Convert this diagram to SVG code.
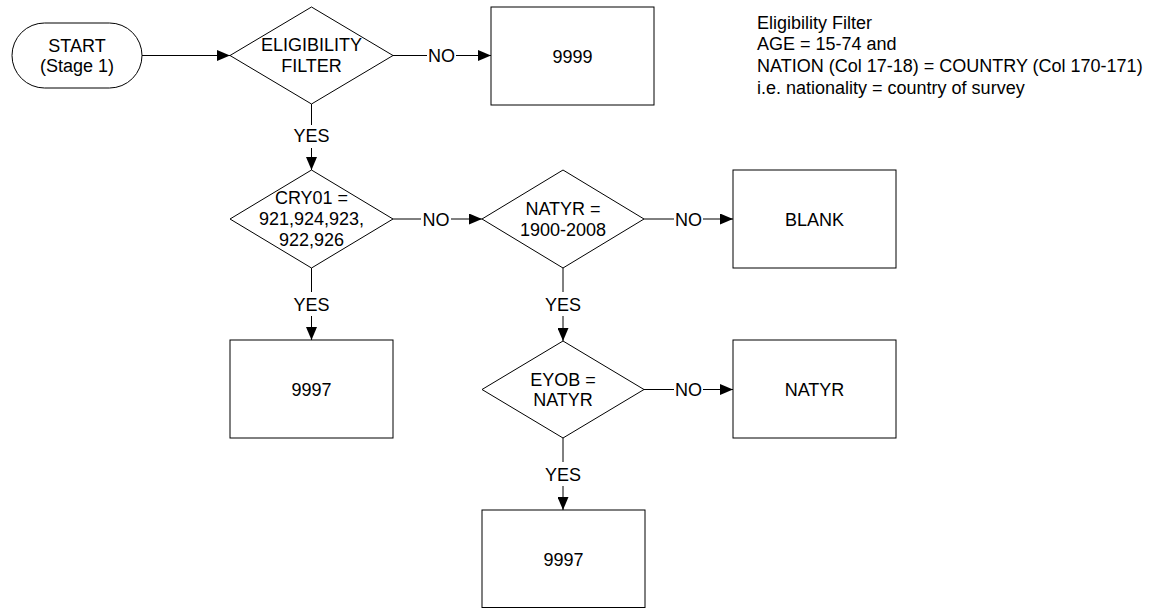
<svg xmlns="http://www.w3.org/2000/svg" width="1154" height="608" viewBox="0 0 1154 608">
<defs>
<style>
.shape{fill:#fff;stroke:#000;stroke-width:1}
.t{font-family:"Liberation Sans",Arial,sans-serif;font-size:18px;fill:#000;text-anchor:middle}
.note{font-family:"Liberation Sans",Arial,sans-serif;font-size:18px;fill:#000}
.c{stroke:#000;stroke-width:1;fill:none}
</style>
<marker id="arr" markerUnits="userSpaceOnUse" markerWidth="13" markerHeight="11" refX="13" refY="5.5" orient="auto">
<path d="M0,0 L13,5.5 L0,11 z" fill="#000"/>
</marker>
</defs>
<rect width="1154" height="608" fill="#fff"/>

<g id="connectors">
<line class="c" x1="142" y1="55.5" x2="230" y2="55.5" marker-end="url(#arr)"/>
<line class="c" x1="393" y1="55.5" x2="427" y2="55.5"/>
<text class="t" x="441.5" y="62">NO</text>
<line class="c" x1="456" y1="55.5" x2="491" y2="55.5" marker-end="url(#arr)"/>
<line class="c" x1="311.5" y1="104" x2="311.5" y2="125"/>
<text class="t" x="311.5" y="142">YES</text>
<line class="c" x1="311.5" y1="148" x2="311.5" y2="170" marker-end="url(#arr)"/>

<line class="c" x1="393" y1="219" x2="421" y2="219"/>
<text class="t" x="436" y="225.5">NO</text>
<line class="c" x1="451" y1="219" x2="482" y2="219" marker-end="url(#arr)"/>
<line class="c" x1="644" y1="219" x2="674" y2="219"/>
<text class="t" x="688.5" y="225.5">NO</text>
<line class="c" x1="703" y1="219" x2="733" y2="219" marker-end="url(#arr)"/>

<line class="c" x1="311.5" y1="268" x2="311.5" y2="292"/>
<text class="t" x="311.5" y="311">YES</text>
<line class="c" x1="311.5" y1="316" x2="311.5" y2="340" marker-end="url(#arr)"/>
<line class="c" x1="563" y1="268" x2="563" y2="292"/>
<text class="t" x="563" y="311">YES</text>
<line class="c" x1="563" y1="316" x2="563" y2="341" marker-end="url(#arr)"/>

<line class="c" x1="644" y1="389.5" x2="674" y2="389.5"/>
<text class="t" x="688.5" y="396">NO</text>
<line class="c" x1="703" y1="389.5" x2="733" y2="389.5" marker-end="url(#arr)"/>
<line class="c" x1="563" y1="438" x2="563" y2="462"/>
<text class="t" x="563" y="481">YES</text>
<line class="c" x1="563" y1="486" x2="563" y2="510" marker-end="url(#arr)"/>
</g>

<g id="start">
<rect class="shape" x="12" y="23" width="130" height="65" rx="32.5" ry="32.5"/>
<text class="t" x="77" y="51.5">START</text>
<text class="t" x="77" y="72">(Stage 1)</text>
</g>

<g id="eligibility">
<polygon class="shape" points="230,55.5 311.5,7 393,55.5 311.5,104"/>
<text class="t" x="311.5" y="51">ELIGIBILITY</text>
<text class="t" x="311.5" y="71.5">FILTER</text>
</g>

<g id="box9999">
<rect class="shape" x="491" y="7" width="163" height="98"/>
<text class="t" x="572.5" y="62.5">9999</text>
</g>

<g id="note">
<text class="note" x="757" y="28.5">Eligibility Filter</text>
<text class="note" x="757" y="50">AGE = 15-74 and</text>
<text class="note" x="757" y="72">NATION (Col 17-18) = COUNTRY (Col 170-171)</text>
<text class="note" x="757" y="93.5">i.e. nationality = country of survey</text>
</g>

<g id="cry01">
<polygon class="shape" points="230,219 311.5,170 393,219 311.5,268"/>
<text class="t" x="311.5" y="203.5">CRY01 =</text>
<text class="t" x="311.5" y="224.5">921,924,923,</text>
<text class="t" x="311.5" y="245.5">922,926</text>
</g>

<g id="natyr-range">
<polygon class="shape" points="482,219 563,170 644,219 563,268"/>
<text class="t" x="563" y="215">NATYR =</text>
<text class="t" x="563" y="235.5">1900-2008</text>
</g>

<g id="blank">
<rect class="shape" x="733" y="170" width="163" height="98"/>
<text class="t" x="814.5" y="225.5">BLANK</text>
</g>

<g id="box9997a">
<rect class="shape" x="230" y="340" width="163" height="98"/>
<text class="t" x="311.5" y="395.5">9997</text>
</g>

<g id="eyob">
<polygon class="shape" points="482,389.5 563,341 644,389.5 563,438"/>
<text class="t" x="563" y="385.5">EYOB =</text>
<text class="t" x="563" y="406">NATYR</text>
</g>

<g id="natyr-box">
<rect class="shape" x="733" y="340" width="163" height="98"/>
<text class="t" x="814.5" y="396">NATYR</text>
</g>

<g id="box9997b">
<rect class="shape" x="482" y="510" width="163" height="97.5"/>
<text class="t" x="563.5" y="566">9997</text>
</g>
</svg>
